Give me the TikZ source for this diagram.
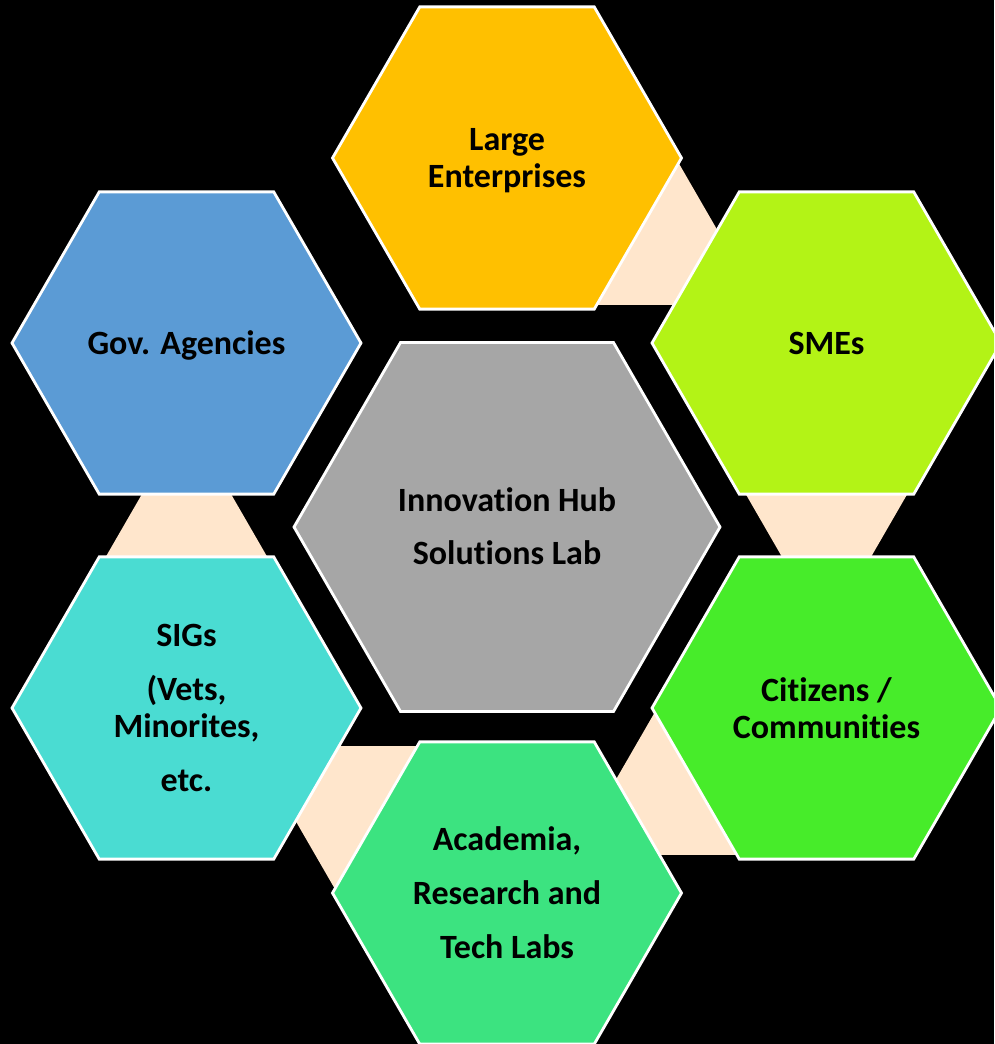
\documentclass[tikz,border=0pt]{standalone}
\usepackage{fontspec}
\setmainfont{Carlito}[Ligatures=NoCommon,RawFeature={-liga}]
\definecolor{cLarge}{HTML}{FFC000}
\definecolor{cGov}{HTML}{5B9BD5}
\definecolor{cSME}{HTML}{B3F316}
\definecolor{cCit}{HTML}{47EC2A}
\definecolor{cAca}{HTML}{3CE380}
\definecolor{cSIG}{HTML}{4ADCD2}
\definecolor{cHub}{HTML}{A6A6A6}
\definecolor{cPeach}{HTML}{FFE6CC}
\tikzset{
  hexshape/.style={draw=white, line width=2.8pt, line join=miter},
  hextext/.style={font=\bfseries\fontsize{34}{37}\selectfont, align=center, text=black, inner sep=0pt},
  link/.style={fill=cPeach, draw=none}
}
% name, x, y, radius, colour, text, text offset (downwards)
\newcommand\myhex[7]{%
  \coordinate (#1c) at (#2,#3);
  \path[hexshape, fill=#5] (#1c) +(0:#4) -- +(60:#4) -- +(120:#4) -- +(180:#4) -- +(240:#4) -- +(300:#4) -- cycle;
  \node[hextext] (#1) at ([yshift=-#7]#1c) {#6};
}
\newcommand\uptri[3]{% name, x, y (centroid), apex toward top of picture
  \coordinate (#1) at (#2,#3);
  \path[link] (#1) +(0,-108.5) -- +(94,54.3) -- +(-94,54.3) -- cycle;
}
\newcommand\downtri[3]{%
  \coordinate (#1) at (#2,#3);
  \path[link] (#1) +(0,108.5) -- +(94,-54.3) -- +(-94,-54.3) -- cycle;
}
\begin{document}
\begin{tikzpicture}[x=1pt,y=-1pt]
\useasboundingbox (0,0) rectangle (994,1044);
\clip (0,0) rectangle (994,1044);
\fill[black] (0,0) rectangle (994,1044);
% connectors
\uptri{tLS}{666.5}{250.5}
\downtri{tSC}{826.5}{525.5}
\uptri{tCA}{666.5}{800.5}
\downtri{tAS}{346.5}{800.5}
\uptri{tSG}{186.5}{525.5}
% hexagons
\myhex{large}{507}{158}{174.5pt}{cLarge}{Large\\Enterprises}{3pt}
\myhex{gov}{186.5}{343}{174.5pt}{cGov}{Gov. Agencies}{2pt}
\myhex{sme}{826.5}{343}{174.5pt}{cSME}{SMEs}{0pt}
\myhex{hub}{507}{527}{213pt}{cHub}{Innovation Hub\\[16pt]Solutions Lab}{-1pt}
\myhex{sig}{186.5}{708}{174.5pt}{cSIG}{SIGs\\[17pt](Vets,\\Minorites,\\[17pt]etc.}{0pt}
\myhex{cit}{826.5}{708}{174.5pt}{cCit}{Citizens /\\Communities}{0pt}
\myhex{aca}{507}{893}{174.5pt}{cAca}{Academia,\\[17pt]Research and\\[17pt]Tech Labs}{0pt}
\end{tikzpicture}
\end{document}
